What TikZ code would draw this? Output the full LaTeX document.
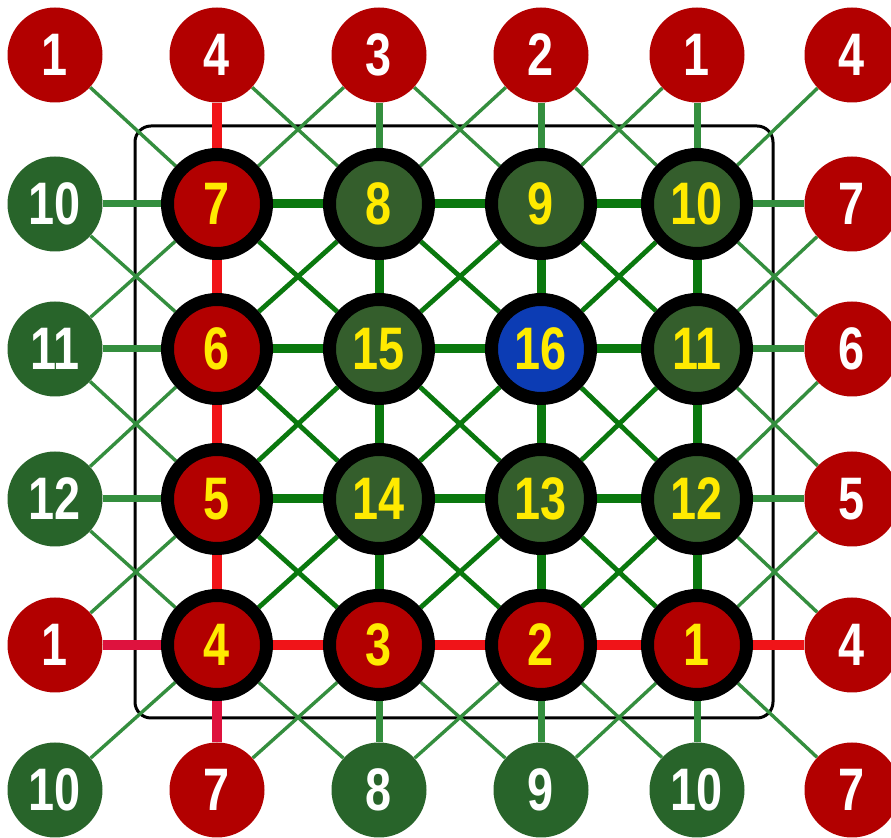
\documentclass[tikz,border=0pt]{standalone}
\usepackage{fontspec}
\newfontfamily\numfont{Liberation Sans}[FakeStretch=0.78]
\usepackage{tikz}
\usetikzlibrary{backgrounds}
\definecolor{rfill}{RGB}{178,0,0}
\definecolor{gfill}{RGB}{52,94,44}
\definecolor{ofill}{RGB}{40,100,42}
\definecolor{bfill}{RGB}{12,60,180}
\definecolor{numyel}{RGB}{255,234,0}
\definecolor{egreen}{RGB}{10,120,14}
\definecolor{eglt}{RGB}{52,142,62}
\definecolor{ered}{RGB}{240,20,24}
\definecolor{ecrim}{RGB}{222,18,62}
\newcommand{\numtxt}{\numfont\bfseries\fontsize{30}{30}\selectfont}
\tikzset{
  onode/.style={circle,minimum size=47.5pt,inner sep=0pt,text=white,font=\numtxt}, % copy on the rim
  inode/.style={circle,draw=black,line width=6.5pt,minimum size=49.5pt,inner sep=0pt,
    text=numyel,font=\numtxt},                                                     % cell of the board
  iedge/.style={egreen,line width=4.5pt},   % cell to cell, straight
  idiag/.style={egreen,line width=2.4pt},   % cell to cell, diagonal
  oedge/.style={eglt,line width=3.5pt},     % cell to rim, straight
  odiag/.style={eglt,line width=1.7pt},     % cell to rim, diagonal
  redge/.style={ered,line width=5pt},       % red path
  cedge/.style={ecrim,line width=5pt},      % red path, wrapped ends
  frame/.style={black,line width=1.5pt,rounded corners=8pt},
}
\begin{document}
\begin{tikzpicture}[x=0.5pt,y=-0.5pt]
  \useasboundingbox (0,0) rectangle (891,838);
  \foreach \x [count=\c from 0] in {55,217,379,541,697,852}
    \foreach \y [count=\r from 0] in {55,204,349,499,645,790}
      \coordinate (p\r\c) at (\x,\y);

  % the 4x4 board
  \foreach \r/\c/\lbl/\clr in {1/1/7/rfill,1/2/8/gfill,1/3/9/gfill,1/4/10/gfill,
      2/1/6/rfill,2/2/15/gfill,2/3/16/bfill,2/4/11/gfill,
      3/1/5/rfill,3/2/14/gfill,3/3/13/gfill,3/4/12/gfill,
      4/1/4/rfill,4/2/3/rfill,4/3/2/rfill,4/4/1/rfill}
    \node[inode,fill=\clr] (n\r\c) at (p\r\c) {\lbl};

  % wrapped copies round the rim
  \foreach \r/\c/\lbl/\clr in {0/0/1/rfill,0/1/4/rfill,0/2/3/rfill,0/3/2/rfill,0/4/1/rfill,0/5/4/rfill,
      1/0/10/ofill,2/0/11/ofill,3/0/12/ofill,4/0/1/rfill,
      1/5/7/rfill,2/5/6/rfill,3/5/5/rfill,4/5/4/rfill,
      5/0/10/ofill,5/1/7/rfill,5/2/8/ofill,5/3/9/ofill,5/4/10/ofill,5/5/7/rfill}
    \node[onode,fill=\clr] (n\r\c) at (p\r\c) {\lbl};

  \begin{scope}[on background layer]
    \draw[frame] (135,126) rectangle (773,718);
    % straight links inside the board
    \foreach \i [evaluate=\i as \j using int(\i+1)] in {1,...,3}{
      \foreach \k in {1,...,3}{
        \draw[iedge] (n\k\i) -- (n\k\j);
      }
      \foreach \k in {2,...,4}{
        \draw[iedge] (n\i\k) -- (n\j\k);
      }
    }
    % diagonal links inside the board
    \foreach \r [evaluate=\r as \s using int(\r+1)] in {1,...,3}{
      \foreach \c [evaluate=\c as \d using int(\c+1)] in {1,...,3}
        \draw[idiag] (n\r\c) -- (n\s\d);
      \foreach \c [evaluate=\c as \d using int(\c-1)] in {2,...,4}
        \draw[idiag] (n\r\c) -- (n\s\d);
    }
    % straight links to the rim
    \foreach \i in {1,...,3}{
      \draw[oedge] (n\i0) -- (n\i1);
      \draw[oedge] (n\i4) -- (n\i5);
    }
    \foreach \i in {2,...,4}{
      \draw[oedge] (n0\i) -- (n1\i);
      \draw[oedge] (n4\i) -- (n5\i);
    }
    % diagonal links to the rim
    \foreach \c [evaluate=\c as \d using int(\c+1)] in {0,...,3}
      \draw[odiag] (n0\c) -- (n1\d);
    \foreach \c [evaluate=\c as \d using int(\c-1)] in {2,...,5}
      \draw[odiag] (n0\c) -- (n1\d);
    \foreach \c [evaluate=\c as \d using int(\c+1)] in {1,...,4}
      \draw[odiag] (n4\c) -- (n5\d);
    \foreach \c [evaluate=\c as \d using int(\c-1)] in {1,...,4}
      \draw[odiag] (n4\c) -- (n5\d);
    \foreach \r [evaluate=\r as \s using int(\r+1)] in {1,...,3}{
      \draw[odiag] (n\r0) -- (n\s1);
      \draw[odiag] (n\r1) -- (n\s0);
      \draw[odiag] (n\r4) -- (n\s5);
      \draw[odiag] (n\r5) -- (n\s4);
    }
    % red path 1 to 7
    \foreach \i [evaluate=\i as \j using int(\i+1)] in {1,...,4}
      \draw[redge] (n4\i) -- (n4\j);
    \foreach \i [evaluate=\i as \j using int(\i+1)] in {0,...,3}
      \draw[redge] (n\i1) -- (n\j1);
    \draw[cedge] (n40) -- (n41);
    \draw[cedge] (n41) -- (n51);
  \end{scope}
\end{tikzpicture}
\end{document}
